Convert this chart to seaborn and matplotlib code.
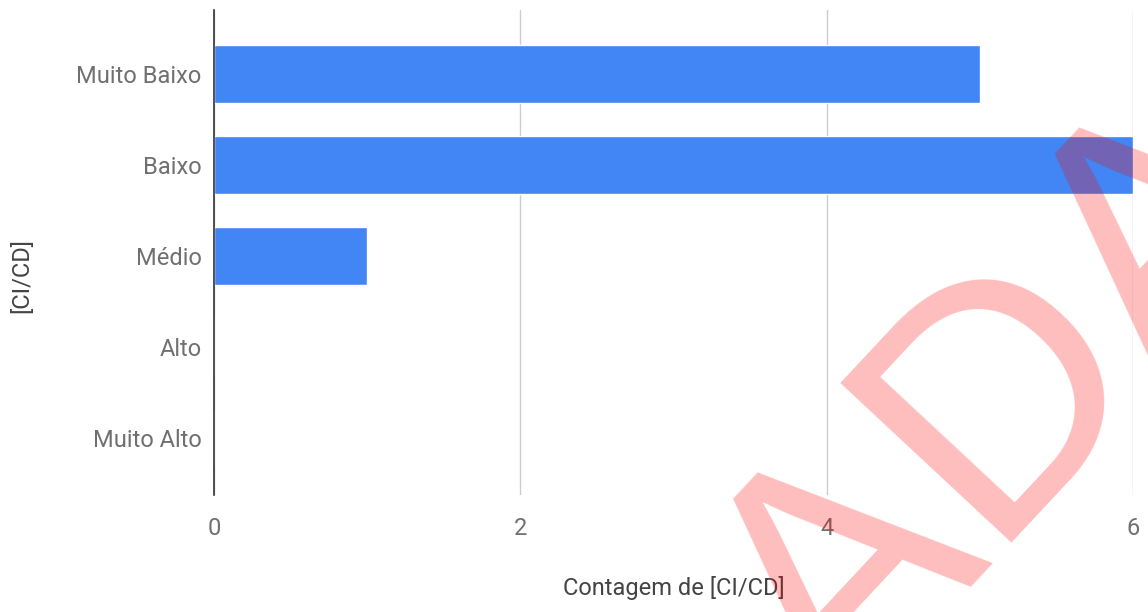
import matplotlib
matplotlib.use("Agg")
import matplotlib.pyplot as plt
import seaborn as sns
import pandas as pd

# data
categories = ['Muito Baixo', 'Baixo', 'Médio', 'Alto', 'Muito Alto']
counts = [5, 6, 1, 0, 0]
x_ticks = [0, 2, 4, 6]

sns.set_style('white')
plt.rcParams['font.family'] = ['Roboto', 'DejaVu Sans']

dataframe = pd.DataFrame({'nivel': categories, 'contagem': counts})

fig = plt.figure(figsize=(11.48, 6.12), dpi=100)
ax = fig.add_axes([0.1864, 0.1912, 0.8005, 0.7925])

sns.barplot(data=dataframe, x='contagem', y='nivel', order=categories,
            color='#4285f4', saturation=1, width=0.64, orient='h', ax=ax, zorder=2)

ax.set_xlim(0, 6)
ax.set_ylim(4.63, -0.70)
ax.set_xticks(x_ticks)
ax.grid(axis='x', color='#cccccc', linewidth=1, zorder=0)
ax.grid(axis='y', visible=False)
for s in ['top', 'right', 'bottom']:
    ax.spines[s].set_visible(False)
ax.spines['left'].set_color('#333333')
ax.spines['left'].set_linewidth(1.2)
ax.spines['left'].set_zorder(3)

ax.tick_params(axis='y', length=0, pad=9, labelsize=17, labelcolor='#707070')
ax.tick_params(axis='x', length=0, pad=16, labelsize=17, labelcolor='#707070')

ax.set_xlabel('Contagem de [CI/CD]', fontsize=17, color='#444444')
ax.set_ylabel('[CI/CD]', fontsize=17, color='#444444')
ax.xaxis.set_label_coords(0.5, -0.168)
ax.yaxis.set_label_coords(-0.197, 0.452)

# watermark over the picture ("...CONTROLADA", mostly outside the frame)
wm = dict(fontsize=245, family='Liberation Sans', color='red', alpha=0.26, rotation=47,
          rotation_mode='anchor', va='baseline', zorder=10)
fig.text(838 / 1148, 1 - 728 / 612, 'ADA', ha='left', **wm)
fig.text(838 / 1148, 1 - 728 / 612, 'CONTROL', ha='right', **wm)

fig.savefig('out.png', dpi=100)
